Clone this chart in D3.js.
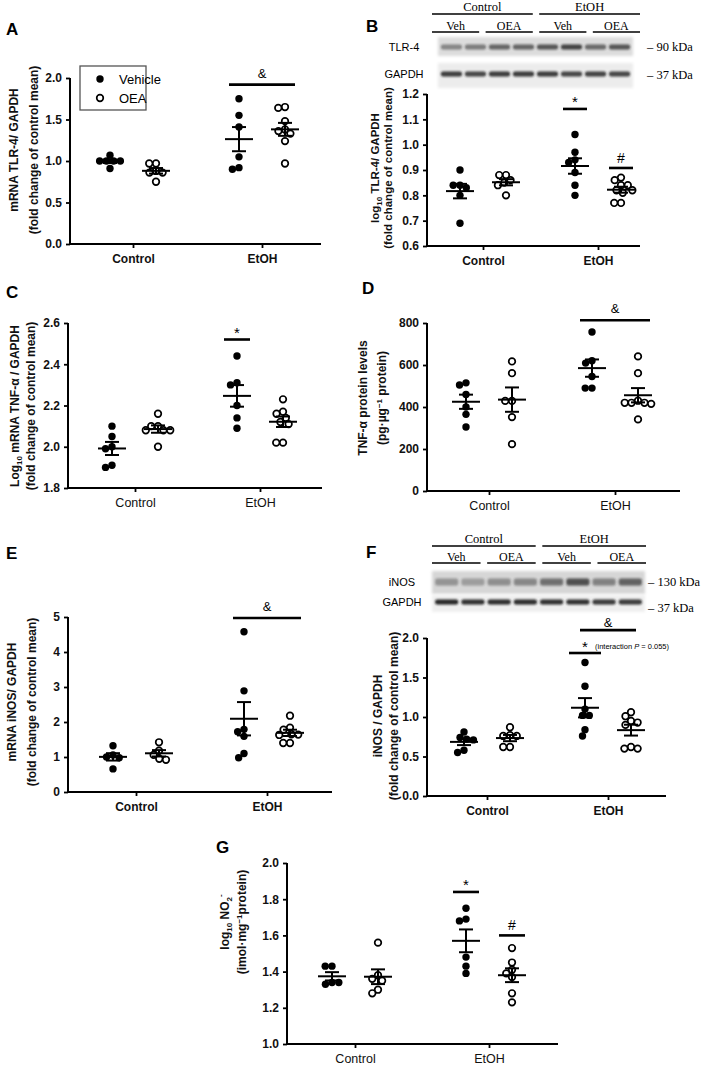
<!DOCTYPE html>
<html><head><meta charset="utf-8">
<script src="https://cdnjs.cloudflare.com/ajax/libs/d3/7.8.5/d3.min.js"></script>
<style>body{margin:0;background:#fff}svg{display:block}</style>
</head><body>
<svg id="c" width="709" height="1065"></svg>
<script>
// ---------------- DATA ----------------
const groups = ["Control", "EtOH"];
const treatments = ["Vehicle", "OEA"];
const blotGroups = ["Control", "EtOH"];
const blotSubs = ["Veh", "OEA"];

// A: mRNA TLR-4 / GAPDH
const aCtrlVeh = [1.07, 1.0, 1.0, 1.0, 1.0, 0.91];
const aCtrlOea = [0.97, 0.97, 0.88, 0.86, 0.86, 0.75];
const aEtohVeh = [1.75, 1.55, 1.41, 1.05, 0.92, 0.90];
const aEtohOea = [1.65, 1.64, 1.48, 1.38, 1.36, 1.33, 1.24, 0.97];
const aTicks = [0, 0.5, 1.0, 1.5, 2.0];
const aSig = [{label: "&", group: "EtOH", span: "both", value: 1.92}];

// B: log10 TLR-4 / GAPDH (western blot)
const bCtrlVeh = [0.90, 0.84, 0.84, 0.83, 0.80, 0.69];
const bCtrlOea = [0.88, 0.88, 0.86, 0.85, 0.84, 0.80];
const bEtohVeh = [1.04, 0.97, 0.94, 0.93, 0.89, 0.84, 0.80];
const bEtohOea = [0.87, 0.86, 0.84, 0.84, 0.82, 0.82, 0.81, 0.77, 0.77];
const bTicks = [0.6, 0.7, 0.8, 0.9, 1.0, 1.1, 1.2];
const bSig = [{label: "*", group: "EtOH", span: "veh", value: 1.141},
              {label: "#", group: "EtOH", span: "oea", value: 0.908}];
const bTlr4Bands = [0.45, 0.5, 0.62, 0.62, 0.7, 0.8, 0.6, 0.7];
const bGapdhBands = [0.85, 0.8, 0.85, 0.85, 0.85, 0.8, 0.82, 0.8];

// C: Log10 mRNA TNF-a / GAPDH
const cCtrlVeh = [2.10, 2.05, 2.00, 1.99, 1.91, 1.90];
const cCtrlOea = [2.16, 2.10, 2.10, 2.08, 2.08, 2.08, 2.00];
const cEtohVeh = [2.44, 2.31, 2.30, 2.20, 2.14, 2.09];
const cEtohOea = [2.23, 2.17, 2.16, 2.14, 2.12, 2.11, 2.02, 2.02];
const cTicks = [1.8, 2.0, 2.2, 2.4, 2.6];
const cSig = [{label: "*", group: "EtOH", span: "veh", value: 2.52}];

// D: TNF-a protein levels
const dCtrlVeh = [515, 505, 460, 400, 365, 305];
const dCtrlOea = [617, 561, 429, 429, 352, 223];
const dEtohVeh = [757, 620, 609, 545, 490, 490];
const dEtohOea = [641, 561, 430, 420, 420, 420, 415, 341];
const dTicks = [0, 200, 400, 600, 800];
const dSig = [{label: "&", group: "EtOH", span: "both", value: 813}];

// E: mRNA iNOS / GAPDH
const eCtrlVeh = [1.32, 1.06, 1.0, 0.98, 0.66];
const eCtrlOea = [1.42, 1.18, 1.06, 0.95, 0.92];
const eEtohVeh = [4.58, 2.89, 1.79, 1.72, 1.59, 1.10, 0.98];
const eEtohOea = [2.18, 1.84, 1.78, 1.65, 1.64, 1.63, 1.40, 1.40];
const eTicks = [0, 1, 2, 3, 4, 5];
const eSig = [{label: "&", group: "EtOH", span: "both", value: 4.97}];

// F: iNOS / GAPDH (western blot)
const fCtrlVeh = [0.81, 0.74, 0.72, 0.71, 0.58, 0.55];
const fCtrlOea = [0.87, 0.77, 0.76, 0.76, 0.62, 0.62];
const fEtohVeh = [1.69, 1.39, 1.10, 1.02, 1.02, 0.84, 0.76];
const fEtohOea = [1.06, 1.01, 0.95, 0.93, 0.90, 0.62, 0.60, 0.60];
const fTicks = [0, 0.5, 1.0, 1.5, 2.0];
const fSig = [{label: "&", group: "EtOH", span: "both", value: 2.10},
              {label: "*", group: "EtOH", span: "veh", value: 1.81, note: "(interaction ", noteItalic: "P", noteEnd: " = 0.055)"}];
const fInosBands = [0.35, 0.3, 0.38, 0.42, 0.55, 0.72, 0.45, 0.62];
const fGapdhBands = [0.95, 0.9, 0.92, 0.92, 0.9, 0.9, 0.86, 0.86];

// G: log10 NO2-
const gCtrlVeh = [1.43, 1.43, 1.34, 1.33, 1.34];
const gCtrlOea = [1.56, 1.38, 1.36, 1.35, 1.30, 1.28];
const gEtohVeh = [1.75, 1.69, 1.68, 1.48, 1.43, 1.39];
const gEtohOea = [1.53, 1.45, 1.41, 1.39, 1.37, 1.28, 1.23];
const gTicks = [1.0, 1.2, 1.4, 1.6, 1.8, 2.0];
const gSig = [{label: "*", group: "EtOH", span: "veh", value: 1.84},
              {label: "#", group: "EtOH", span: "oea", value: 1.60}];

// ---------------- DRAWING ----------------
const svg = d3.select("#c");
const SANS = "'Liberation Sans', Arial, Helvetica, sans-serif";
const SERIF = "'Liberation Serif', 'Times New Roman', serif";

const defs = svg.append("defs");
defs.append("filter").attr("id", "blur").attr("x", "-50%").attr("y", "-150%")
  .attr("width", "200%").attr("height", "400%")
  .append("feGaussianBlur").attr("stdDeviation", 1.3);
defs.append("filter").attr("id", "blur2").attr("x", "-20%").attr("y", "-20%")
  .attr("width", "140%").attr("height", "140%")
  .append("feGaussianBlur").attr("stdDeviation", 1.5);

function swarm(vals, y, cx, d) {
  const nodes = vals.map(v => ({v, y: y(v), x: cx}));
  const placed = [];
  for (const n of nodes) {
    const cands = [0];
    for (const q of placed) {
      const dy = n.y - q.y;
      if (Math.abs(dy) < d) {
        const dx = Math.sqrt(d * d - dy * dy);
        cands.push(q.x - cx + dx, q.x - cx - dx);
      }
    }
    cands.sort((a, b) => Math.abs(a) - Math.abs(b) || a - b);
    for (const c of cands) {
      if (placed.every(q => (q.x - (cx + c)) ** 2 + (q.y - n.y) ** 2 >= d * d - 0.01)) { n.x = cx + c; break; }
    }
    placed.push(n);
  }
  return nodes;
}

function addTitle(lines, xs, cy, size) {
  lines.forEach((parts, i) => {
    const t = svg.append("text")
      .attr("transform", `translate(${xs[i]},${cy}) rotate(-90)`)
      .attr("text-anchor", "middle").attr("font-family", SANS)
      .attr("font-weight", "bold").attr("font-size", size).attr("fill", "#111");
    parts.forEach(p => {
      const ts = t.append("tspan").text(p.t);
      if (p.dy) ts.attr("dy", p.dy);
      if (p.fs) ts.attr("font-size", p.fs);
      if (p.w) ts.attr("font-weight", p.w);
    });
  });
}

function panelLabel(txt, x, y) {
  svg.append("text").attr("x", x).attr("y", y).attr("font-family", SANS)
    .attr("font-weight", "bold").attr("font-size", 17).text(txt);
}

function drawPanel(cfg, data, ticks, sigs) {
  const g = svg.append("g");
  const y = d3.scaleLinear().domain([ticks[0], ticks[ticks.length - 1]]).range([cfg.y0, cfg.y1]);
  const x = d3.scalePoint().domain(groups).range([cfg.cx0, cfg.cx1]);
  const off = 23;

  // y axis
  const ya = g.append("g").attr("transform", `translate(${cfg.ax0},0)`)
    .call(d3.axisLeft(y).tickValues(ticks).tickFormat(d3.format(cfg.fmt)).tickSize(4).tickPadding(4));
  ya.select(".domain").attr("stroke-width", 2).attr("d", `M0,${cfg.y1}V${cfg.y0}`);
  ya.selectAll(".tick line").attr("stroke-width", 1.8);
  ya.selectAll("text").attr("font-family", SANS).attr("font-weight", "bold").attr("font-size", 12).attr("fill", "#111");

  // x axis
  const xa = g.append("g").attr("transform", `translate(0,${cfg.y0})`)
    .call(d3.axisBottom(x).tickSize(4).tickPadding(6));
  xa.select(".domain").remove();
  xa.append("line").attr("x1", cfg.ax0 - 1).attr("x2", cfg.ax1).attr("stroke", "#000").attr("stroke-width", 2);
  xa.selectAll(".tick line").attr("stroke-width", 1.8);
  xa.selectAll("text").attr("font-family", SANS).attr("font-weight", cfg.xBold ? "bold" : "normal")
    .attr("font-size", cfg.xBold ? 12 : 12.5).attr("fill", "#111");

  // points and mean +/- SEM
  data.forEach((pair, gi) => {
    pair.forEach((vals, ti) => {
      const cx = x(groups[gi]) + (ti === 0 ? -off : off);
      const nodes = swarm(vals, y, cx, 6.8);
      g.selectAll(null).data(nodes).enter().append("circle")
        .attr("cx", d => d.x).attr("cy", d => d.y)
        .attr("r", ti === 0 ? 3.7 : 3.3)
        .attr("fill", ti === 0 ? "#000" : "#fff")
        .attr("stroke", "#000").attr("stroke-width", ti === 0 ? 0 : 1.7);
      const m = d3.mean(vals);
      const se = d3.deviation(vals) / Math.sqrt(vals.length);
      const eg = g.append("g").attr("stroke", "#000").attr("stroke-width", 2);
      eg.append("line").attr("x1", cx - 14).attr("x2", cx + 14).attr("y1", y(m)).attr("y2", y(m));
      eg.append("line").attr("x1", cx).attr("x2", cx).attr("y1", y(m + se)).attr("y2", y(m - se));
      [m + se, m - se].forEach(v => eg.append("line").attr("x1", cx - 7).attr("x2", cx + 7).attr("y1", y(v)).attr("y2", y(v)));
    });
  });

  // significance marks
  sigs.forEach(s => {
    const gx = x(s.group);
    let xa0, xa1;
    if (s.span === "both") { xa0 = gx - cfg.bothHalf; xa1 = gx + cfg.bothHalf; }
    else {
      const cx = gx + (s.span === "veh" ? -off : off);
      xa0 = cx - cfg.singleHalf; xa1 = cx + cfg.singleHalf;
    }
    const yy = y(s.value);
    g.append("line").attr("x1", xa0).attr("x2", xa1).attr("y1", yy).attr("y2", yy)
      .attr("stroke", "#000").attr("stroke-width", 2.6);
    const dy = s.label === "*" ? (cfg.starDy ?? 2) : (s.label === "&" ? (cfg.ampDy ?? 7) : 5);
    const fs = s.label === "*" ? 15 : (s.label === "&" ? 13 : 14);
    const cxT = (xa0 + xa1) / 2;
    g.append("text").attr("x", cxT).attr("y", yy - dy).attr("text-anchor", "middle")
      .attr("font-family", SANS).attr("font-size", fs).text(s.label);
    if (s.note) {
      const t = g.append("text").attr("x", cxT + 10).attr("y", yy - 4).attr("font-family", SANS)
        .attr("font-size", 7.5).attr("fill", "#000");
      t.append("tspan").text(s.note);
      t.append("tspan").attr("font-style", "italic").text(s.noteItalic);
      t.append("tspan").text(s.noteEnd);
    }
  });
  return {x, y};
}

function drawBlot(cfg) {
  const hdr = d3.scaleBand().domain(d3.range(4)).range([cfg.h0, cfg.h1]).paddingInner(0.12);
  blotGroups.forEach((name, gi) => {
    const a = hdr(gi * 2), b = hdr(gi * 2 + 1) + hdr.bandwidth();
    svg.append("line").attr("x1", a).attr("x2", b).attr("y1", cfg.line1).attr("y2", cfg.line1)
      .attr("stroke", "#000").attr("stroke-width", 1.3);
    svg.append("text").attr("x", (a + b) / 2).attr("y", cfg.text1).attr("text-anchor", "middle")
      .attr("font-family", SERIF).attr("font-size", 12.5).text(name);
  });
  d3.range(4).forEach(i => {
    const a = hdr(i), b = hdr(i) + hdr.bandwidth();
    svg.append("line").attr("x1", a).attr("x2", b).attr("y1", cfg.line2).attr("y2", cfg.line2)
      .attr("stroke", "#000").attr("stroke-width", 1.3);
    svg.append("text").attr("x", (a + b) / 2).attr("y", cfg.text2).attr("text-anchor", "middle")
      .attr("font-family", SERIF).attr("font-size", 12).text(blotSubs[i % 2]);
  });
  const lanes = d3.scaleBand().domain(d3.range(8)).range([cfg.b0, cfg.b1]).padding(0.12);
  cfg.rows.forEach(r => {
    svg.append("rect").attr("x", cfg.b0).attr("y", r.top).attr("width", cfg.b1 - cfg.b0)
      .attr("height", r.bottom - r.top).attr("fill", r.bg).attr("filter", "url(#blur2)");
    svg.selectAll(null).data(r.bands).enter().append("rect")
      .attr("x", (d, i) => lanes(i)).attr("width", lanes.bandwidth())
      .attr("y", r.band - r.bh / 2).attr("height", r.bh).attr("rx", 2)
      .attr("fill", "#1a1a1a").attr("opacity", d => d).attr("filter", "url(#blur)");
    svg.append("text").attr("x", cfg.labelX).attr("y", r.band + 4).attr("text-anchor", "middle")
      .attr("font-family", SANS).attr("font-size", 11).text(r.label);
    svg.append("text").attr("x", cfg.kdaX).attr("y", r.band + 4 + (r.kdaDy || 0))
      .attr("font-family", SERIF).attr("font-size", 12.5).text("\u2013 " + r.kda);
  });
}

// ---- Panel A ----
panelLabel("A", 6, 35);
drawPanel({ax0: 70, ax1: 321, y0: 244, y1: 78, cx0: 133, cx1: 262, fmt: ".1f", xBold: true, bothHalf: 33, singleHalf: 13},
  [[aCtrlVeh, aCtrlOea], [aEtohVeh, aEtohOea]], aTicks, aSig);
addTitle([[{t: "mRNA TLR-4/ GAPDH"}], [{t: "(fold change of control mean)"}]], [18, 38], 150, 12);
// legend
svg.append("rect").attr("x", 80).attr("y", 66).attr("width", 66).attr("height", 44)
  .attr("fill", "#fff").attr("stroke", "#555").attr("stroke-width", 1.3);
treatments.forEach((t, i) => {
  svg.append("circle").attr("cx", 100).attr("cy", 79 + i * 19).attr("r", i === 0 ? 3.7 : 3.3)
    .attr("fill", i === 0 ? "#000" : "#fff").attr("stroke", "#000").attr("stroke-width", i === 0 ? 0 : 1.7);
  svg.append("text").attr("x", 119).attr("y", 84 + i * 19).attr("font-family", SANS).attr("font-size", 13).text(t);
});

// ---- Panel B ----
panelLabel("B", 366, 32);
drawBlot({h0: 432, h1: 640, line1: 14, text1: 11, line2: 32, text2: 30, b0: 438, b1: 633, labelX: 404, kdaX: 647,
  rows: [{label: "TLR-4", bands: bTlr4Bands, top: 37, bottom: 56, band: 47, bh: 5, bg: "#dcdcdc", kda: "90 kDa"},
         {label: "GAPDH", bands: bGapdhBands, top: 63, bottom: 88, band: 74, bh: 5, bg: "#ececec", kda: "37 kDa", kdaDy: 1}]});
drawPanel({ax0: 427, ax1: 640, y0: 246, y1: 94, cx0: 483, cx1: 598, fmt: ".1f", xBold: true, bothHalf: 33, singleHalf: 12},
  [[bCtrlVeh, bCtrlOea], [bEtohVeh, bEtohOea]], bTicks, bSig);
addTitle([[{t: "log"}, {t: "10", dy: 3, fs: 8}, {t: " TLR-4/ GAPDH", dy: -3}], [{t: "(fold change of control mean)"}]], [379, 392], 168, 11.5);

// ---- Panel C ----
panelLabel("C", 6, 298);
drawPanel({ax0: 68, ax1: 322, y0: 488, y1: 323, cx0: 135, cx1: 260, fmt: ".1f", xBold: false, bothHalf: 33, singleHalf: 13},
  [[cCtrlVeh, cCtrlOea], [cEtohVeh, cEtohOea]], cTicks, cSig);
addTitle([[{t: "Log"}, {t: "10", dy: 3, fs: 8}, {t: " mRNA TNF-\u03b1 / GAPDH", dy: -3}], [{t: "(fold change of control mean)"}]], [19, 35], 406, 12);

// ---- Panel D ----
panelLabel("D", 362, 294);
drawPanel({ax0: 427, ax1: 680, y0: 491, y1: 323, cx0: 489, cx1: 615, fmt: "d", xBold: false, bothHalf: 35, singleHalf: 13},
  [[dCtrlVeh, dCtrlOea], [dEtohVeh, dEtohOea]], dTicks, dSig);
addTitle([[{t: "TNF-\u03b1 protein levels"}], [{t: "(pg\u00b7\u00b5g"}, {t: "\u22121", dy: -4, fs: 8}, {t: " protein)", dy: 4}]], [367, 386], 398, 12);

// ---- Panel E ----
panelLabel("E", 6, 559);
drawPanel({ax0: 68, ax1: 332, y0: 792, y1: 617, cx0: 136, cx1: 267, fmt: "d", xBold: true, bothHalf: 34, singleHalf: 13},
  [[eCtrlVeh, eCtrlOea], [eEtohVeh, eEtohOea]], eTicks, eSig);
addTitle([[{t: "mRNA iNOS/ GAPDH"}], [{t: "(fold change of control mean)"}]], [16, 36], 702, 12);

// ---- Panel F ----
panelLabel("F", 366, 558);
drawBlot({h0: 432, h1: 646, line1: 546, text1: 543, line2: 563, text2: 561, b0: 432, b1: 645, labelX: 402, kdaX: 648,
  rows: [{label: "iNOS", bands: fInosBands, top: 571, bottom: 594, band: 582, bh: 7, bg: "#d6d6d6", kda: "130 kDa"},
         {label: "GAPDH", bands: fGapdhBands, top: 595, bottom: 612, band: 602, bh: 5, bg: "#efefef", kda: "37 kDa", kdaDy: 6}]});
drawPanel({ax0: 427, ax1: 666, y0: 796, y1: 638, cx0: 487, cx1: 608, fmt: ".1f", xBold: true, bothHalf: 28, singleHalf: 16, ampDy: 3, starDy: 1},
  [[fCtrlVeh, fCtrlOea], [fEtohVeh, fEtohOea]], fTicks, fSig);
addTitle([[{t: "iNOS / GAPDH"}], [{t: "(fold change of control mean)"}]], [382, 398], 716, 12);

// ---- Panel G ----
panelLabel("G", 216, 853);
drawPanel({ax0: 287, ax1: 558, y0: 1044, y1: 863, cx0: 355, cx1: 489, fmt: ".1f", xBold: false, bothHalf: 33, singleHalf: 13},
  [[gCtrlVeh, gCtrlOea], [gEtohVeh, gEtohOea]], gTicks, gSig);
addTitle([[{t: "log"}, {t: "10", dy: 3, fs: 8}, {t: " NO", dy: -3}, {t: "2", dy: 3, fs: 8}, {t: "-", dy: -9, fs: 8}],
          [{t: "(imol\u00b7mg"}, {t: "\u22121", dy: -4, fs: 8}, {t: "protein)", dy: 4}]], [229, 246], 922, 12);
</script>
</body></html>
